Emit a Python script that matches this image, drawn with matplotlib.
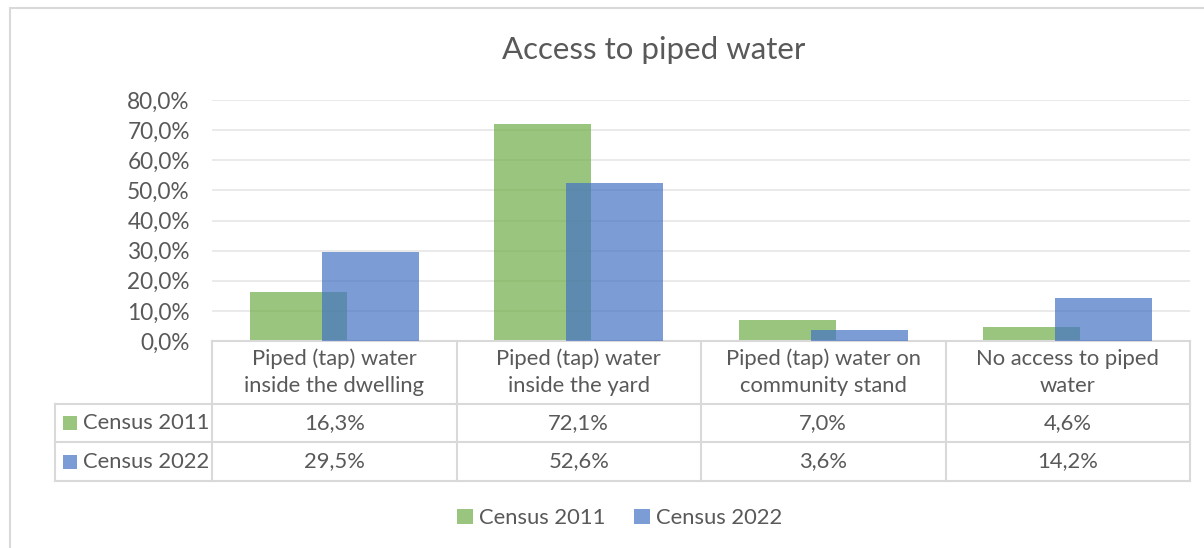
import matplotlib
matplotlib.use("Agg")
import matplotlib.pyplot as plt
import numpy as np
from matplotlib.patches import Rectangle, Patch
from matplotlib.lines import Line2D

categories = ["Piped (tap) water\ninside the dwelling", "Piped (tap) water\ninside the yard",
              "Piped (tap) water on\ncommunity stand", "No access to piped\nwater"]
series_names = ["Census 2011", "Census 2022"]
census_2011 = [16.3, 72.1, 7.0, 4.6]
census_2022 = [29.5, 52.6, 3.6, 14.2]
yticks = [0, 10, 20, 30, 40, 50, 60, 70, 80]

W, H = 1204, 548
plt.rcParams['font.family'] = ['Lato', 'DejaVu Sans']
TXT = '#595959'
GRID = '#D9D9D9'
colors = ['#70AD47', '#4472C4']
FS = 15.8

fig = plt.figure(figsize=(W / 100, H / 100), dpi=100)

# outer chart frame
fig.add_artist(Rectangle((10 / W, -0.1), 1.2, 1 - 8 / H + 0.1, transform=fig.transFigure,
                         fill=False, edgecolor=GRID, lw=1.5))

ax_left, ax_right, ax_top, ax_bot = 212, 1190, 100, 341
ax = fig.add_axes([ax_left / W, 1 - ax_bot / H, (ax_right - ax_left) / W, (ax_bot - ax_top) / H])
x = np.arange(len(categories))
bw = 0.397
off = 0.147
ax.bar(x - off, census_2011, bw, color=colors[0], alpha=0.7, zorder=2)
ax.bar(x + off, census_2022, bw, color=colors[1], alpha=0.7, zorder=3)
ax.set_xlim(-0.5, len(categories) - 0.5)
ax.set_ylim(0, 80)
ax.set_yticks(yticks)
ax.set_yticklabels([f"{v:.1f}".replace('.', ',') + '%' for v in yticks], fontsize=16.3, color=TXT)
ax.set_xticks([])
ax.tick_params(axis='y', length=0, pad=16)
ax.grid(axis='y', color='#E6E6E6', lw=1.2, zorder=0)
ax.set_axisbelow(True)
for s in ax.spines.values():
    s.set_visible(False)

# table below axes (x in data, y in axes fraction)
tr = ax.get_xaxis_transform()
axh = ax_bot - ax_top
def ya(py):
    return -(py - ax_bot) / axh

left_data = -0.5 - (ax_left - 55) / ((ax_right - ax_left) / len(categories))
xr = len(categories) - 0.5
rows_y = [341, 404, 442, 481]
lk = dict(color=GRID, lw=1.5, transform=tr, clip_on=False)
ax.add_line(Line2D([-0.5, xr], [ya(341)] * 2, **lk))
for py in rows_y[1:]:
    ax.add_line(Line2D([left_data, xr], [ya(py)] * 2, **lk))
ax.add_line(Line2D([left_data] * 2, [ya(404), ya(481)], **lk))
for k in range(len(categories) + 1):
    ax.add_line(Line2D([k - 0.5] * 2, [ya(341), ya(481)], **lk))

for i, c in enumerate(categories):
    ax.text(i, ya(372.5), c, transform=tr, ha='center', va='center', fontsize=FS,
            color=TXT, linespacing=1.45, clip_on=False)
    ax.text(i, ya(423), f"{census_2011[i]:.1f}".replace('.', ',') + '%', transform=tr,
            ha='center', va='center', fontsize=FS, color=TXT)
    ax.text(i, ya(461.5), f"{census_2022[i]:.1f}".replace('.', ',') + '%', transform=tr,
            ha='center', va='center', fontsize=FS, color=TXT)

for j, (name, yc) in enumerate(zip(series_names, [423, 461.5])):
    fig.add_artist(Rectangle((63 / W, 1 - (yc + 7) / H), 14 / W, 14 / H, transform=fig.transFigure,
                             facecolor=colors[j], alpha=0.7, edgecolor='none'))
    fig.text(83 / W, 1 - yc / H, name, ha='left', va='center', fontsize=FS, color=TXT)

fig.text(654 / W, 1 - 50 / H, "Access to piped water", ha='center', va='center',
         fontsize=22.5, color=TXT)

handles = [Patch(facecolor=colors[0], alpha=0.7), Patch(facecolor=colors[1], alpha=0.7)]
fig.legend(handles, series_names, loc='center', bbox_to_anchor=(620 / W, 1 - 518 / H), ncol=2,
           frameon=False, fontsize=FS, labelcolor=TXT, handlelength=0.7, handleheight=0.7,
           handletextpad=0.3, columnspacing=1.3)

fig.savefig("out.png", dpi=100)
